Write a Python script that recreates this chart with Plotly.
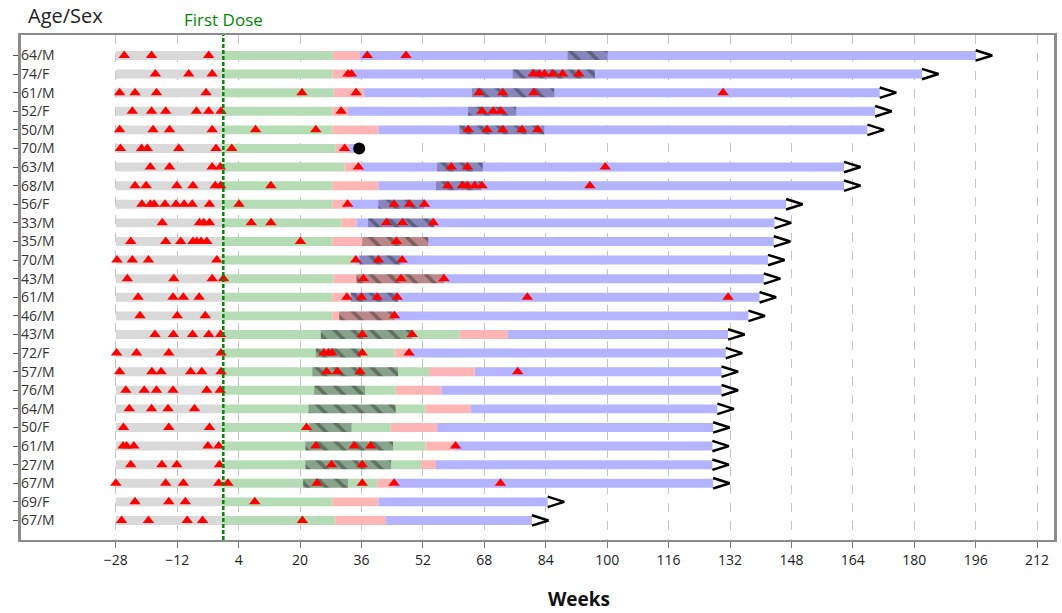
import plotly.graph_objects as go

# ---------------- data ----------------
labels = ["64/M", "74/F", "61/M", "52/F", "50/M", "70/M", "63/M", "68/M", "56/F",
          "33/M", "35/M", "70/M", "43/M", "61/M", "46/M", "43/M", "72/F", "57/M",
          "76/M", "64/M", "50/F", "61/M", "27/M", "67/M", "69/F", "67/M"]

screen_start = [-28] * 26
green_end = [28.6, 28.4, 28.7, 28.4, 28.4, 29.3, 31.6, 28.4, 28.4, 30.8, 28.4, 34.5, 28.7,
             28.4, 28.4, 61.6, 44.6, 53.6, 44.9, 52.7, 43.6, 52.7, 51.5, 40.1, 28.4, 29.3]
pink_end = [35.6, 33.6, 36.7, 32.5, 40.4, 32.8, 35.8, 40.4, 33.2, 34.7, 53.4, 34.5, 57.5,
            33.2, 44.6, 74.1, 48.4, 65.5, 56.8, 64.5, 55.7, 60.5, 55.4, 44.5, 40.4, 42.4]
end_week = [196, 182, 171, 169.8, 167.8, 34.5, 161.7, 161.7, 146.6, 143.6, 143.4, 141.9, 140.8,
            139.7, 136.8, 131.5, 130.9, 129.8, 129.8, 128.7, 127.6, 127.4, 127.4, 127.6, 84.5, 80.4]
ongoing = [True] * 5 + [False] + [True] * 20
death_week = {5: 35.4}

hatch_start = [89.7, 75.4, 64.8, 63.8, 61.5, None, 55.7, 55.4, 40.4, 37.7, 36.2, 35.5, 34.7,
               33.2, 30.2, 25.4, 24.1, 23.2, 23.7, 22.2, 22.4, 21.4, 21.4, 20.8, None, None]
hatch_end = [100.1, 96.8, 86.2, 76.3, 83.6, None, 67.6, 67.2, 52.3, 54.9, 53.4, 46.2, 57.5,
             45.5, 44.6, 49.2, 35.8, 45.5, 36.9, 44.9, 33.4, 44.2, 43.7, 32.5, None, None]

events = [
    [-25.8, -18.7, -3.8, 37.5, 47.6],
    [-17.7, -9.0, -2.9, 32.5, 33.4, 80.7, 82.3, 83.7, 85.8, 88.4, 92.6],
    [-27, -23, -17.4, -4.5, 20.5, 34.6, 66.6, 72.8, 80.9, 130.2],
    [-23.7, -18.7, -15, -7, -3.8, -0.6, 30.7, 67.4, 70.3, 72.3],
    [-27, -18.3, -14, -2.9, 8.4, 24.1, 63.8, 68.7, 72.8, 77.8, 81.9],
    [-26.8, -21.3, -19.8, -11.6, -1.9, 2.2, 31.6],
    [-19, -14, -2.9, -0.8, 35.2, 59.4, 63.6, 99.5],
    [-23, -20.1, -12.1, -7.9, -2.1, -0.7, 12.4, 58.5, 62.3, 63.6, 65.5, 67.4, 95.5],
    [-21.2, -19, -18, -15.2, -12.3, -10.2, -8.1, -3.6, 4.1, 32.4, 44.5, 48.5, 52.4],
    [-15.9, -6.2, -5.1, -3.6, 7.3, 12.4, 42.5, 46.7, 54.7],
    [-24.1, -15, -11.1, -7.9, -6.9, -5.8, -4.3, 20.1, 45.1],
    [-27.7, -23.7, -19.5, -1.7, 34.5, 40.4, 46.6],
    [-25, -12.9, -2.9, 0.05, 36.5, 46.3, 57.5],
    [-22.2, -13.1, -10.4, -6.3, 32.2, 36, 40.1, 45.3, 79.2, 131.5],
    [-21.7, -12, -4.7, 44.6],
    [-17.8, -13, -8, -3.8, -0.7, 36.2, 49.2],
    [-27.8, -22.6, -14.2, -0.6, 26.2, 27.4, 28.3, 36.2, 48.4],
    [-27, -18.6, -16.2, -8.5, -5.6, -0.6, 26.9, 29.7, 35.6, 76.7],
    [-25.4, -20.6, -17.4, -13.1, -4.3, -0.8],
    [-24.5, -18.7, -14.4, -7.5],
    [-26, -14.2, -3.6, 21.7],
    [-26.1, -25.2, -23.3, -4, -1.2, 24.1, 34.1, 38.4, 60.5],
    [-24.1, -16, -12.1, -1, 28.2, 36.2],
    [-28, -15, -10.4, -1.2, 1.2, 24.4, 36.2, 44.5, 72.2],
    [-23, -14.2, -9.9, 8.2],
    [-26.5, -19.5, -9.4, -5.4, 20.6],
]

x_ticks = list(range(-28, 213, 16))
dose_week = 0

# ---------------- figure ----------------
rows = list(range(len(labels)))
BW = 0.48
fig = go.Figure()

def add_bar(base, length, color, **kw):
    fig.add_trace(go.Bar(y=rows, x=length, base=base, orientation="h", width=BW,
                         marker=dict(color=color, line=dict(width=0)),
                         showlegend=False, hoverinfo="skip", **kw))

add_bar(screen_start, [dose_week - s for s in screen_start], "#d9d9d9")
add_bar([dose_week] * len(rows), [g - dose_week for g in green_end], "#b5dcb5")
add_bar(green_end, [p - g for p, g in zip(pink_end, green_end)], "#ffb5b5")
add_bar(pink_end, [e - p for e, p in zip(end_week, pink_end)], "#b3b3ff")

hy, hb, hl = [], [], []
for i, (s, e) in enumerate(zip(hatch_start, hatch_end)):
    if s is not None:
        hy.append(i); hb.append(s); hl.append(e - s)
fig.add_trace(go.Bar(y=hy, x=hl, base=hb, orientation="h", width=BW,
                     marker=dict(color="rgba(45,45,55,0.33)", line=dict(width=0),
                                 pattern=dict(shape="\\", fgcolor="rgba(35,35,35,0.8)",
                                              size=13, solidity=0.28, fillmode="overlay")),
                     showlegend=False, hoverinfo="skip"))

# event triangles
tx, ty = [], []
for i, ev in enumerate(events):
    for v in ev:
        tx.append(v); ty.append(i)
fig.add_trace(go.Scatter(x=tx, y=ty, mode="markers",
                         marker=dict(symbol="triangle-up", size=10, color="#ff0000",
                                     line=dict(width=0)),
                         showlegend=False, hoverinfo="skip"))

# ongoing arrows (chevrons)
ax, ay = [], []
for i, (e, on) in enumerate(zip(end_week, ongoing)):
    if on:
        ax += [e, e + 4.3, e, None]
        ay += [i - 0.28, i, i + 0.28, None]
fig.add_trace(go.Scatter(x=ax, y=ay, mode="lines", line=dict(color="black", width=2.5),
                         showlegend=False, hoverinfo="skip"))

# death marker
fig.add_trace(go.Scatter(x=list(death_week.values()), y=list(death_week.keys()), mode="markers",
                         marker=dict(symbol="circle", size=12, color="black"),
                         showlegend=False, hoverinfo="skip"))

fig.add_shape(type="line", x0=dose_week, x1=dose_week, yref="paper", y0=0, y1=1,
              line=dict(color="#008a00", width=2.5, dash="4px,2px"), layer="above")

fig.update_layout(
    width=1062, height=613,
    margin=dict(l=21, r=5, t=35, b=73),
    barmode="overlay",
    plot_bgcolor="white", paper_bgcolor="white",
    font=dict(family="Open Sans, sans-serif", color="#333333"),
    xaxis=dict(range=[-52.7, 216.4], tickvals=x_ticks, ticks="outside", ticklen=6,
               tickcolor="#777777", showgrid=True, gridcolor="#c4c4c4", griddash="dash",
               gridwidth=1.2, zeroline=False, showline=True, linecolor="#8c8c8c",
               linewidth=2, mirror=True, tickfont=dict(size=14, color="#222222")),
    yaxis=dict(range=[26.05, -1.1], tickvals=rows, ticktext=labels, ticks="outside",
               ticklen=5, tickcolor="#555555", ticklabelposition="inside",
               showgrid=False, zeroline=False, showline=True, linecolor="#8c8c8c",
               linewidth=2.5, mirror=True, tickfont=dict(size=14, color="#333333")),
    annotations=[
        dict(text="Age/Sex", x=0.005, y=1, xref="paper", yref="paper", xanchor="left",
             yanchor="middle", yshift=20, showarrow=False, font=dict(size=20, color="#222222")),
        dict(text="First Dose", x=dose_week, y=1, xref="x", yref="paper", xanchor="center",
             yanchor="middle", yshift=16, showarrow=False, font=dict(size=17, color="#008a00")),
        dict(text="<b>Weeks</b>", x=0.54, y=0, xref="paper", yref="paper", xanchor="center",
             yanchor="middle", yshift=-59, showarrow=False, font=dict(size=19, color="#111111")),
    ],
)

fig.write_html("out.html")
